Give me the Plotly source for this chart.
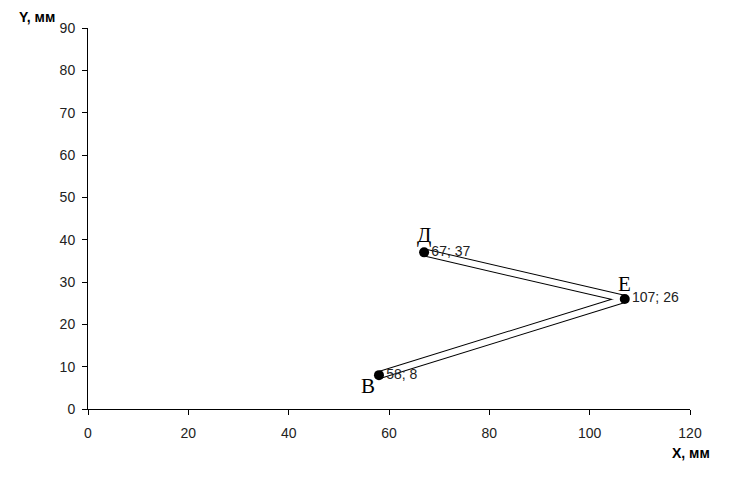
import plotly.graph_objects as go

x_vals = [58, 107, 67]
y_vals = [8, 26, 37]
point_names = ["В", "Е", "Д"]
value_labels = [f"{x}; {y}" for x, y in zip(x_vals, y_vals)]

fig = go.Figure()
# double-line road: thick black line with white core
fig.add_trace(go.Scatter(x=x_vals, y=y_vals, mode="lines",
                         line=dict(color="black", width=8), hoverinfo="skip"))
fig.add_trace(go.Scatter(x=x_vals, y=y_vals, mode="lines",
                         line=dict(color="white", width=6), hoverinfo="skip"))
fig.add_trace(go.Scatter(x=x_vals, y=y_vals, mode="markers+text",
                         marker=dict(color="black", size=10),
                         text=value_labels, textposition="middle right",
                         textfont=dict(family="Arial, Liberation Sans", size=14, color="#222")))

name_offsets = {"В": (-11, -11), "Е": (0, 15), "Д": (0, 17)}
for xv, yv, nm in zip(x_vals, y_vals, point_names):
    dx, dy = name_offsets[nm]
    fig.add_annotation(x=xv, y=yv, text=nm, showarrow=False, xshift=dx, yshift=dy,
                       font=dict(family="Liberation Serif, Times New Roman", size=21, color="black"))

fig.add_annotation(xref="paper", yref="paper", x=-0.118, y=1.03, xanchor="left", yanchor="middle",
                   text="<b>Y, мм</b>", showarrow=False,
                   font=dict(family="Arial, Liberation Sans", size=14, color="black"))
fig.add_annotation(xref="paper", yref="paper", x=1.037, y=-0.115, xanchor="right", yanchor="middle",
                   text="<b>X, мм</b>", showarrow=False,
                   font=dict(family="Arial, Liberation Sans", size=14, color="black"))

axis_common = dict(showgrid=False, zeroline=False, showline=True, linecolor="black", linewidth=1,
                   ticks="outside", ticklen=5, tickcolor="black",
                   tickfont=dict(family="Arial, Liberation Sans", size=14, color="#222"))
fig.update_xaxes(range=[0, 120], dtick=20, ticklabelstandoff=6, **axis_common)
fig.update_yaxes(range=[0, 90], dtick=10, ticklabelstandoff=4, **axis_common)

# page body adds an 8px offset, so margins are reduced accordingly
fig.update_layout(width=735, height=486, plot_bgcolor="white", paper_bgcolor="white",
                  showlegend=False, margin=dict(l=80, r=53, t=16, b=85))
fig.write_html("out.html")
